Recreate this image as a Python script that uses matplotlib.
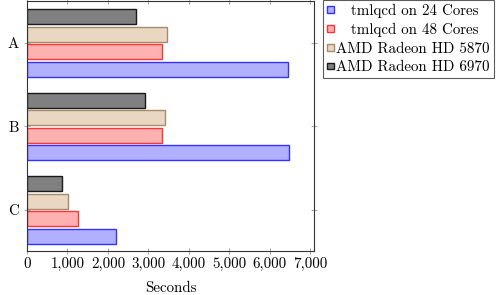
import matplotlib
matplotlib.use("Agg")
import matplotlib.pyplot as plt
from matplotlib.ticker import FuncFormatter
import numpy as np

plt.rcParams['font.family'] = ['cmr10', 'DejaVu Serif']
plt.rcParams['mathtext.fontset'] = 'cm'
plt.rcParams['axes.formatter.use_mathtext'] = True

categories = ["C", "B", "A"]
series_names = ["tmlqcd on 24 Cores", "tmlqcd on 48 Cores",
                "AMD Radeon HD 5870", "AMD Radeon HD 6970"]
values = {
    "tmlqcd on 24 Cores": [2190, 6480, 6460],
    "tmlqcd on 48 Cores": [1250, 3340, 3340],
    "AMD Radeon HD 5870": [1020, 3420, 3470],
    "AMD Radeon HD 6970": [870, 2920, 2700],
}
legend_labels = ["   tmlqcd on 24 Cores", "   tmlqcd on 48 Cores",
                 "AMD Radeon HD 5870", "AMD Radeon HD 6970"]
face_colors = ["#b0b0ff", "#ffb0b0", "#e9d7c2", "#808080"]
edge_colors = ["#3333ff", "#ff3333", "#a78a6a", "#1a1a1a"]
offsets = [-0.315, -0.105, 0.105, 0.315]
bar_h = 0.18
fs = 10.8

fig = plt.figure(figsize=(4.99, 2.95), dpi=100)
ax = fig.add_axes([27/499, 1-251/295, 287/499, 250/295])

y = np.arange(len(categories))
handles = []
for name, off, fc, ec in zip(series_names, offsets, face_colors, edge_colors):
    h = ax.barh(y + off, values[name], height=bar_h, color=fc, edgecolor=ec,
                linewidth=1.0, label=name)
    handles.append(h)

ax.set_ylim(-0.49, 2.5)
ax.set_xlim(0, 7100)
ax.set_yticks(y)
ax.set_yticklabels(categories)
ax.set_xticks(np.arange(0, 7001, 1000))
ax.xaxis.set_major_formatter(FuncFormatter(lambda v, p: f"{int(v):,}"))
ax.tick_params(axis='both', direction='inout', length=5, width=0.6,
               color='#999999', labelsize=fs, top=True, right=True)
ax.tick_params(axis='x', pad=2)
for s in ax.spines.values():
    s.set_color('#333333')
    s.set_linewidth(0.8)
ax.set_xlabel("Seconds", fontsize=fs, labelpad=7)

leg = fig.legend(handles, legend_labels, loc='upper left',
                 bbox_to_anchor=(323/499, 1.0), fontsize=fs, frameon=True,
                 fancybox=False, edgecolor='#333333', handlelength=0.45,
                 handleheight=0.3, handletextpad=0.2, borderpad=0.25,
                 labelspacing=0.33, borderaxespad=0)
leg.get_frame().set_linewidth(0.8)

fig.savefig("out.png", dpi=100)
